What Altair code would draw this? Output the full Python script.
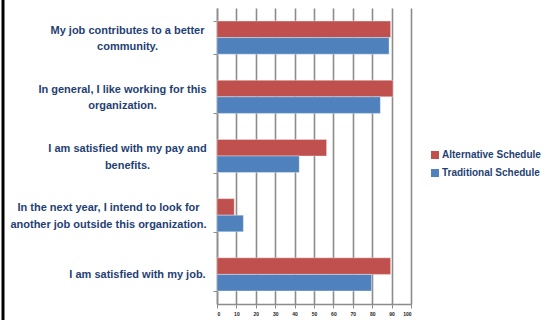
import altair as alt
import pandas as pd

categories = [
    "My job contributes to a better\ncommunity.",
    "In general, I like working for this\norganization.",
    "I am satisfied with my pay and\nbenefits.",
    "In the next year, I intend to look for\nanother job outside this organization.",
    "I am satisfied with my job.",
]
series = ["Alternative Schedule", "Traditional Schedule"]
alternative = [89.5, 90.7, 56.5, 8.9, 89.5]
traditional = [88.7, 84.2, 42.4, 13.6, 79.7]
x_ticks = [0, 10, 20, 30, 40, 50, 60, 70, 80, 90, 100]

rows = []
for c, a, t in zip(categories, alternative, traditional):
    rows.append({"q": c, "s": series[0], "v": a})
    rows.append({"q": c, "s": series[1], "v": t})
df = pd.DataFrame(rows)

TXT = "#1F3F73"
GRID = "#8C8C8C"
FONT = "Liberation Sans"

# label groups (index into categories) -> distance of label centre from the ticks, vertical shift
label_groups = [([0, 2], 86, -7.5), ([1], 91, -7.5), ([3], 105, -7.5), ([4], 76, 0)]

xenc = alt.X("v:Q", scale=alt.Scale(domain=[0, 100], nice=False),
             axis=alt.Axis(values=x_ticks, title=None, grid=True, gridColor=GRID, gridWidth=1.6,
                           domainColor=GRID, domainWidth=1.5, tickColor=GRID, tickSize=4,
                           labelFontSize=5, labelFont=FONT, labelFontWeight="bold",
                           labelColor="#222222", labelPadding=3))
yoff = alt.YOffset("s:N", sort=series)
yscale = alt.Scale(paddingInner=0.44, paddingOuter=0.22)


def label_expr(idx):
    names = [categories[i] for i in idx]
    cond = " || ".join("datum.value == " + repr(n) for n in names)
    return "(" + cond + ") ? split(datum.label, '\\n') : ''"


layers = []
for k, (idx, pad, off) in enumerate(label_groups):
    first = k == 0
    axis = alt.Axis(title=None, orient="left", tickBand="extent",
                    domain=first, domainColor=GRID, domainWidth=1.5,
                    ticks=True, tickColor=GRID if first else "transparent", tickSize=4,
                    labelAlign="center", labelPadding=pad, labelOffset=off,
                    labelExpr=label_expr(idx),
                    labelFont=FONT, labelFontWeight="bold",
                    labelFontSize=11, labelLineHeight=16.5, labelColor=TXT,
                    labelLimit=0, labelOverlap=False, grid=False)
    mark = alt.Chart(df).mark_bar(stroke="white", strokeWidth=0.6,
                                  strokeOpacity=0.6 if first else 0,
                                  opacity=1 if first else 0)
    enc = dict(
        x=xenc,
        y=alt.Y("q:N", sort=categories, scale=yscale, axis=axis),
        yOffset=yoff,
    )
    if first:
        enc["color"] = alt.Color("s:N", sort=series,
                                 scale=alt.Scale(domain=series, range=["#C0504D", "#4F81BD"]),
                                 legend=alt.Legend(title=None, orient="none", legendX=213, legendY=142,
                                                   symbolType="square", symbolSize=64,
                                                   symbolStrokeWidth=0,
                                                   labelFont=FONT, labelFontWeight="bold",
                                                   labelFontSize=10, labelColor=TXT,
                                                   rowPadding=8, labelOffset=2))
    layers.append(mark.encode(**enc))

border = alt.Chart(pd.DataFrame({"a": [0]})).mark_rule(color="black", strokeWidth=3, clip=False).encode(
    x=alt.value(-214), y=alt.value(-10), y2=alt.value(315)
)

chart = alt.layer(*layers, border).resolve_axis(y="independent").properties(
    width=194, height=296,
    autosize=alt.AutoSizeParams(type="none"),
    padding={"left": 217, "top": 8, "right": 136, "bottom": 16},
    background="white",
).configure_view(stroke=None)

chart.save("out.html", embed_options={"renderer": "svg", "actions": False})
